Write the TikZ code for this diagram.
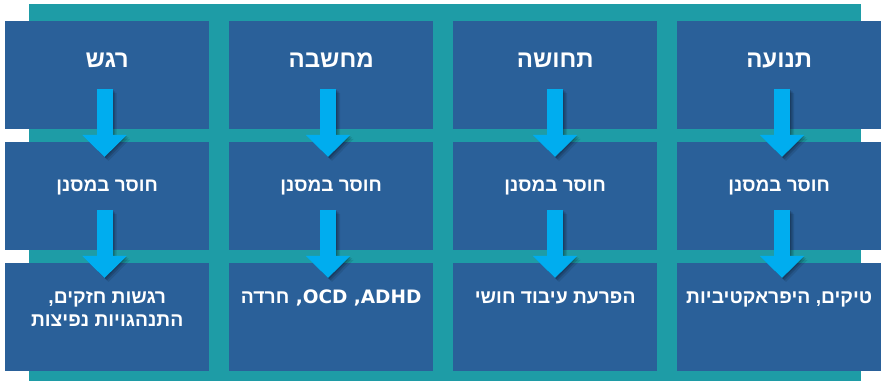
\documentclass[tikz,border=0pt]{standalone}
\usepackage{fontspec}
\newfontfamily\heb[Script=Hebrew]{Liberation Sans}
\newfontfamily\latinwide{DejaVu Sans}
\TeXXeTstate=1
\usetikzlibrary{arrows.meta,calc}
\definecolor{frameteal}{HTML}{1E9CA6}
\definecolor{cellblue}{HTML}{2A6099}
\definecolor{flowcyan}{HTML}{00ADEF}

\begin{document}
\begin{tikzpicture}[x=1pt,y=1pt,
  cellbox/.style={fill=cellblue, draw=none, minimum width=204pt, minimum height=108pt,
    inner sep=0pt, anchor=north west},
  headtxt/.style={text=white, font=\heb\bfseries\fontsize{24}{28}\selectfont,
    anchor=base, inner sep=0pt},
  midtxt/.style={text=white, font=\heb\bfseries\fontsize{19}{23}\selectfont,
    anchor=base, inner sep=0pt},
  endtxt/.style={text=white, font=\heb\bfseries\fontsize{19.3}{23.5}\selectfont,
    align=center, anchor=base, inner sep=0pt},
  flowline/.style={draw=flowcyan, line width=16pt,
    -{Triangle[width=43pt,length=22pt]}},
]
\useasboundingbox (0,0) rectangle (881,-382);

% teal frame behind the grid
\fill[frameteal] (29,-4) rectangle (861,-381);

% three rows of four cells
\foreach \c/\x in {1/5,2/229,3/453,4/677}{
  \foreach \r/\y in {1/21,2/142,3/263}{
    \node[cellbox] (cell\r\c) at (\x,-\y) {};
  }
}

% headings
\node[headtxt] (h1) at ($(cell11.north)+(0,-47)$) {\beginR רגש\endR};
\node[headtxt] (h2) at ($(cell12.north)+(0,-47)$) {\beginR מחשבה\endR};
\node[headtxt] (h3) at ($(cell13.north)+(0,-47)$) {\beginR תחושה\endR};
\node[headtxt] (h4) at ($(cell14.north)+(0,-47)$) {\beginR תנועה\endR};

% middle row
\foreach \c in {1,...,4}{
  \node[midtxt] (m\c) at ($(cell2\c.north)+(0,-50)$) {\beginR חוסר במסנן\endR};
}

% outcomes (a two-line node sits on the baseline of its last line)
\node[endtxt] (e1) at ($(cell31.north)+(0,-63.5)$)
  {\beginR רגשות חזקים,\endR\\\beginR התנהגויות נפיצות\endR};
\node[endtxt] (e2) at ($(cell32.north)+(0,-40)$)
  {\beginR חרדה\endR{\latinwide\bfseries\fontsize{18.5}{22}\selectfont{} ,OCD ,ADHD}};
\node[endtxt] (e3) at ($(cell33.north)+(0,-40)$) {\beginR הפרעת עיבוד חושי\endR};
\node[endtxt] (e4) at ($(cell34.north)+(0,-40)$) {\beginR טיקים, היפראקטיביות\endR};

% arrow end points
\foreach \c/\x in {1/104.5,2/328,3/555,4/782}{
  \coordinate (a\c) at (\x,-89);
  \coordinate (b\c) at (\x,-157);
  \coordinate (c\c) at (\x,-210);
  \coordinate (d\c) at (\x,-278);
}

% soft shadows under the arrows
\foreach \c in {1,...,4}{
  \foreach \s/\o in {4/0.10,2.5/0.14,1.2/0.16}{
    \foreach \p/\q in {a/b,c/d}{
      \fill[black, opacity=\o]
        ($(\p\c)+(-8+\s,-\s)$) -- ($(\p\c)+(8+\s,-\s)$) --
        ($(\q\c)+(8+\s,22-\s)$) -- ($(\q\c)+(21.5+\s,22-\s)$) --
        ($(\q\c)+(\s,-\s)$) --
        ($(\q\c)+(-21.5+\s,22-\s)$) -- ($(\q\c)+(-8+\s,22-\s)$) -- cycle;
    }
  }
}

% arrows
\foreach \c in {1,...,4}{
  \draw[flowline] (a\c) -- (b\c);
  \draw[flowline] (c\c) -- (d\c);
}
\end{tikzpicture}
\end{document}
